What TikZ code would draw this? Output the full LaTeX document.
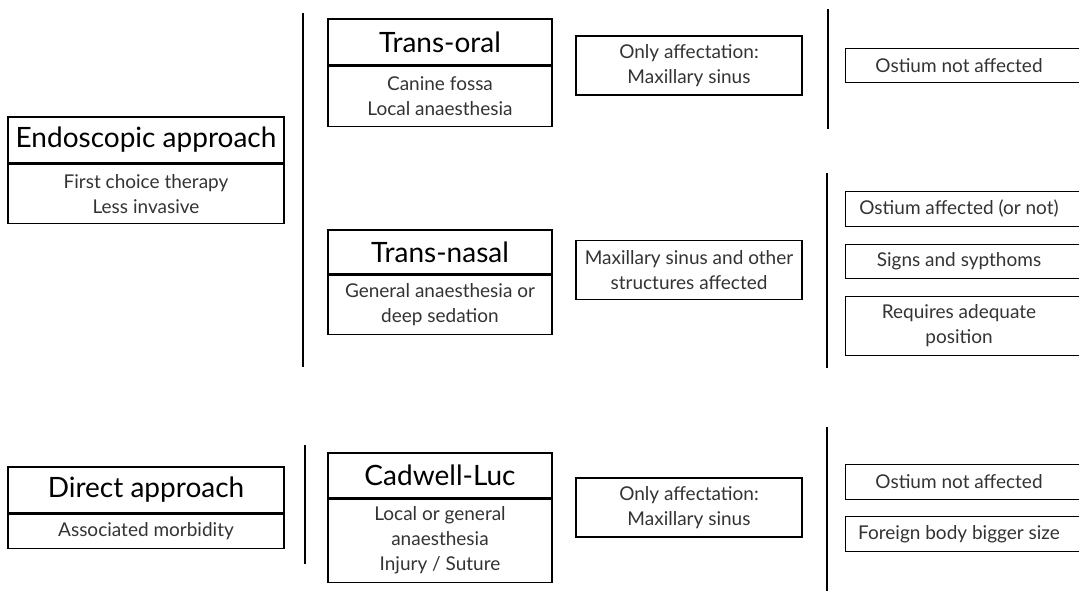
\documentclass[tikz,border=0pt]{standalone}
\usepackage{fontspec}
\setmainfont{Lato}
\usepackage{tikz}
\usepackage{xcolor}
\usetikzlibrary{positioning}

\definecolor{subgray}{HTML}{333333}
\tikzset{
    headbox/.style={draw, line width=1.1pt, minimum width=#1, inner sep=0pt, font=\fontsize{28}{30}\selectfont},
    bodybox/.style={draw, line width=1.1pt, minimum width=#1, inner sep=0pt, align=center, text=subgray, font=\fontsize{19}{25}\selectfont},
    notebox/.style={draw, line width=1.1pt, minimum width=226pt, minimum height=59pt, inner sep=0pt, align=center, text=subgray, font=\fontsize{19}{25}\selectfont},
    sidebox/.style={minimum width=226pt, inner sep=0pt, align=center, text=subgray, font=\fontsize{19}{25}\selectfont},
    bar/.style={line width=1.8pt}
}

\begin{document}
\begin{tikzpicture}[x=1pt, y=-1pt]
                    \useasboundingbox (0, 0) rectangle (1079, 590);
                    \clip (0, 0) rectangle (1079, 590);

                    % approaches
                    \node[headbox=276pt, minimum height=46pt] (endo) at (146, 140) {Endoscopic approach};
                    \node[bodybox=276pt, minimum height=59pt, below=0pt of endo] (endob) {First choice therapy\\Less invasive};
                    \node[headbox=276pt, minimum height=46pt] (direct) at (146, 490) {Direct approach};
                    \node[bodybox=276pt, minimum height=34pt, below=0pt of direct] (directb) {Associated morbidity};

                    % techniques
                    \node[headbox=224pt, minimum height=46pt] (oral) at (440, 42) {Trans-oral};
                    \node[bodybox=224pt, minimum height=60pt, below=0pt of oral] (oralb) {Canine fossa\\Local anaesthesia};
                    \node[headbox=224pt, minimum height=44pt] (nasal) at (440, 252) {Trans-nasal};
                    \node[bodybox=224pt, minimum height=59pt, below=0pt of nasal] (nasalb) {General anaesthesia or\\deep sedation};
                    \node[headbox=224pt, minimum height=45pt] (cadwell) at (440, 475.5) {Cadwell-Luc};
                    \node[bodybox=224pt, minimum height=83pt, below=0pt of cadwell] (cadwellb) {Local or general\\anaesthesia\\Injury / Suture};

                    % extent
                    \node[notebox] (oralx) at (689, 65.5) {Only affectation:\\Maxillary sinus};
                    \node[notebox] (nasalx) at (689, 270) {Maxillary sinus and other\\structures affected};
                    \node[notebox] (cadwellx) at (689, 507.5) {Only affectation:\\Maxillary sinus};

                    % indications
                    \node[sidebox, minimum height=33pt] (r1) at (959, 65.5) {Ostium not affected};
                    \node[sidebox, minimum height=34pt] (r2) at (959, 209) {Ostium affected (or not)};
                    \node[sidebox, minimum height=33pt] (r3) at (959, 261.5) {Signs and sypthoms};
                    \node[sidebox, minimum height=58pt] (r4) at (959, 326) {Requires adequate\\position};
                    \node[sidebox, minimum height=34pt] (r5) at (959, 482) {Ostium not affected};
                    \node[sidebox, minimum height=34pt] (r6) at (959, 534) {Foreign body bigger size};
                    \foreach \n in {r1, r2, r3, r4, r5, r6}
                        \draw[line width=1.1pt] (\n.north west) rectangle ([xshift=40pt]\n.south east);

                    \draw[bar]
                    (303, 13) -- (303, 367)
                    (305, 445) -- (305, 564)
                    (828, 9) -- (828, 129)
                    (827, 173) -- (827, 368)
                    (827, 427) -- (827, 595);
                \end{tikzpicture}
\end{document}
